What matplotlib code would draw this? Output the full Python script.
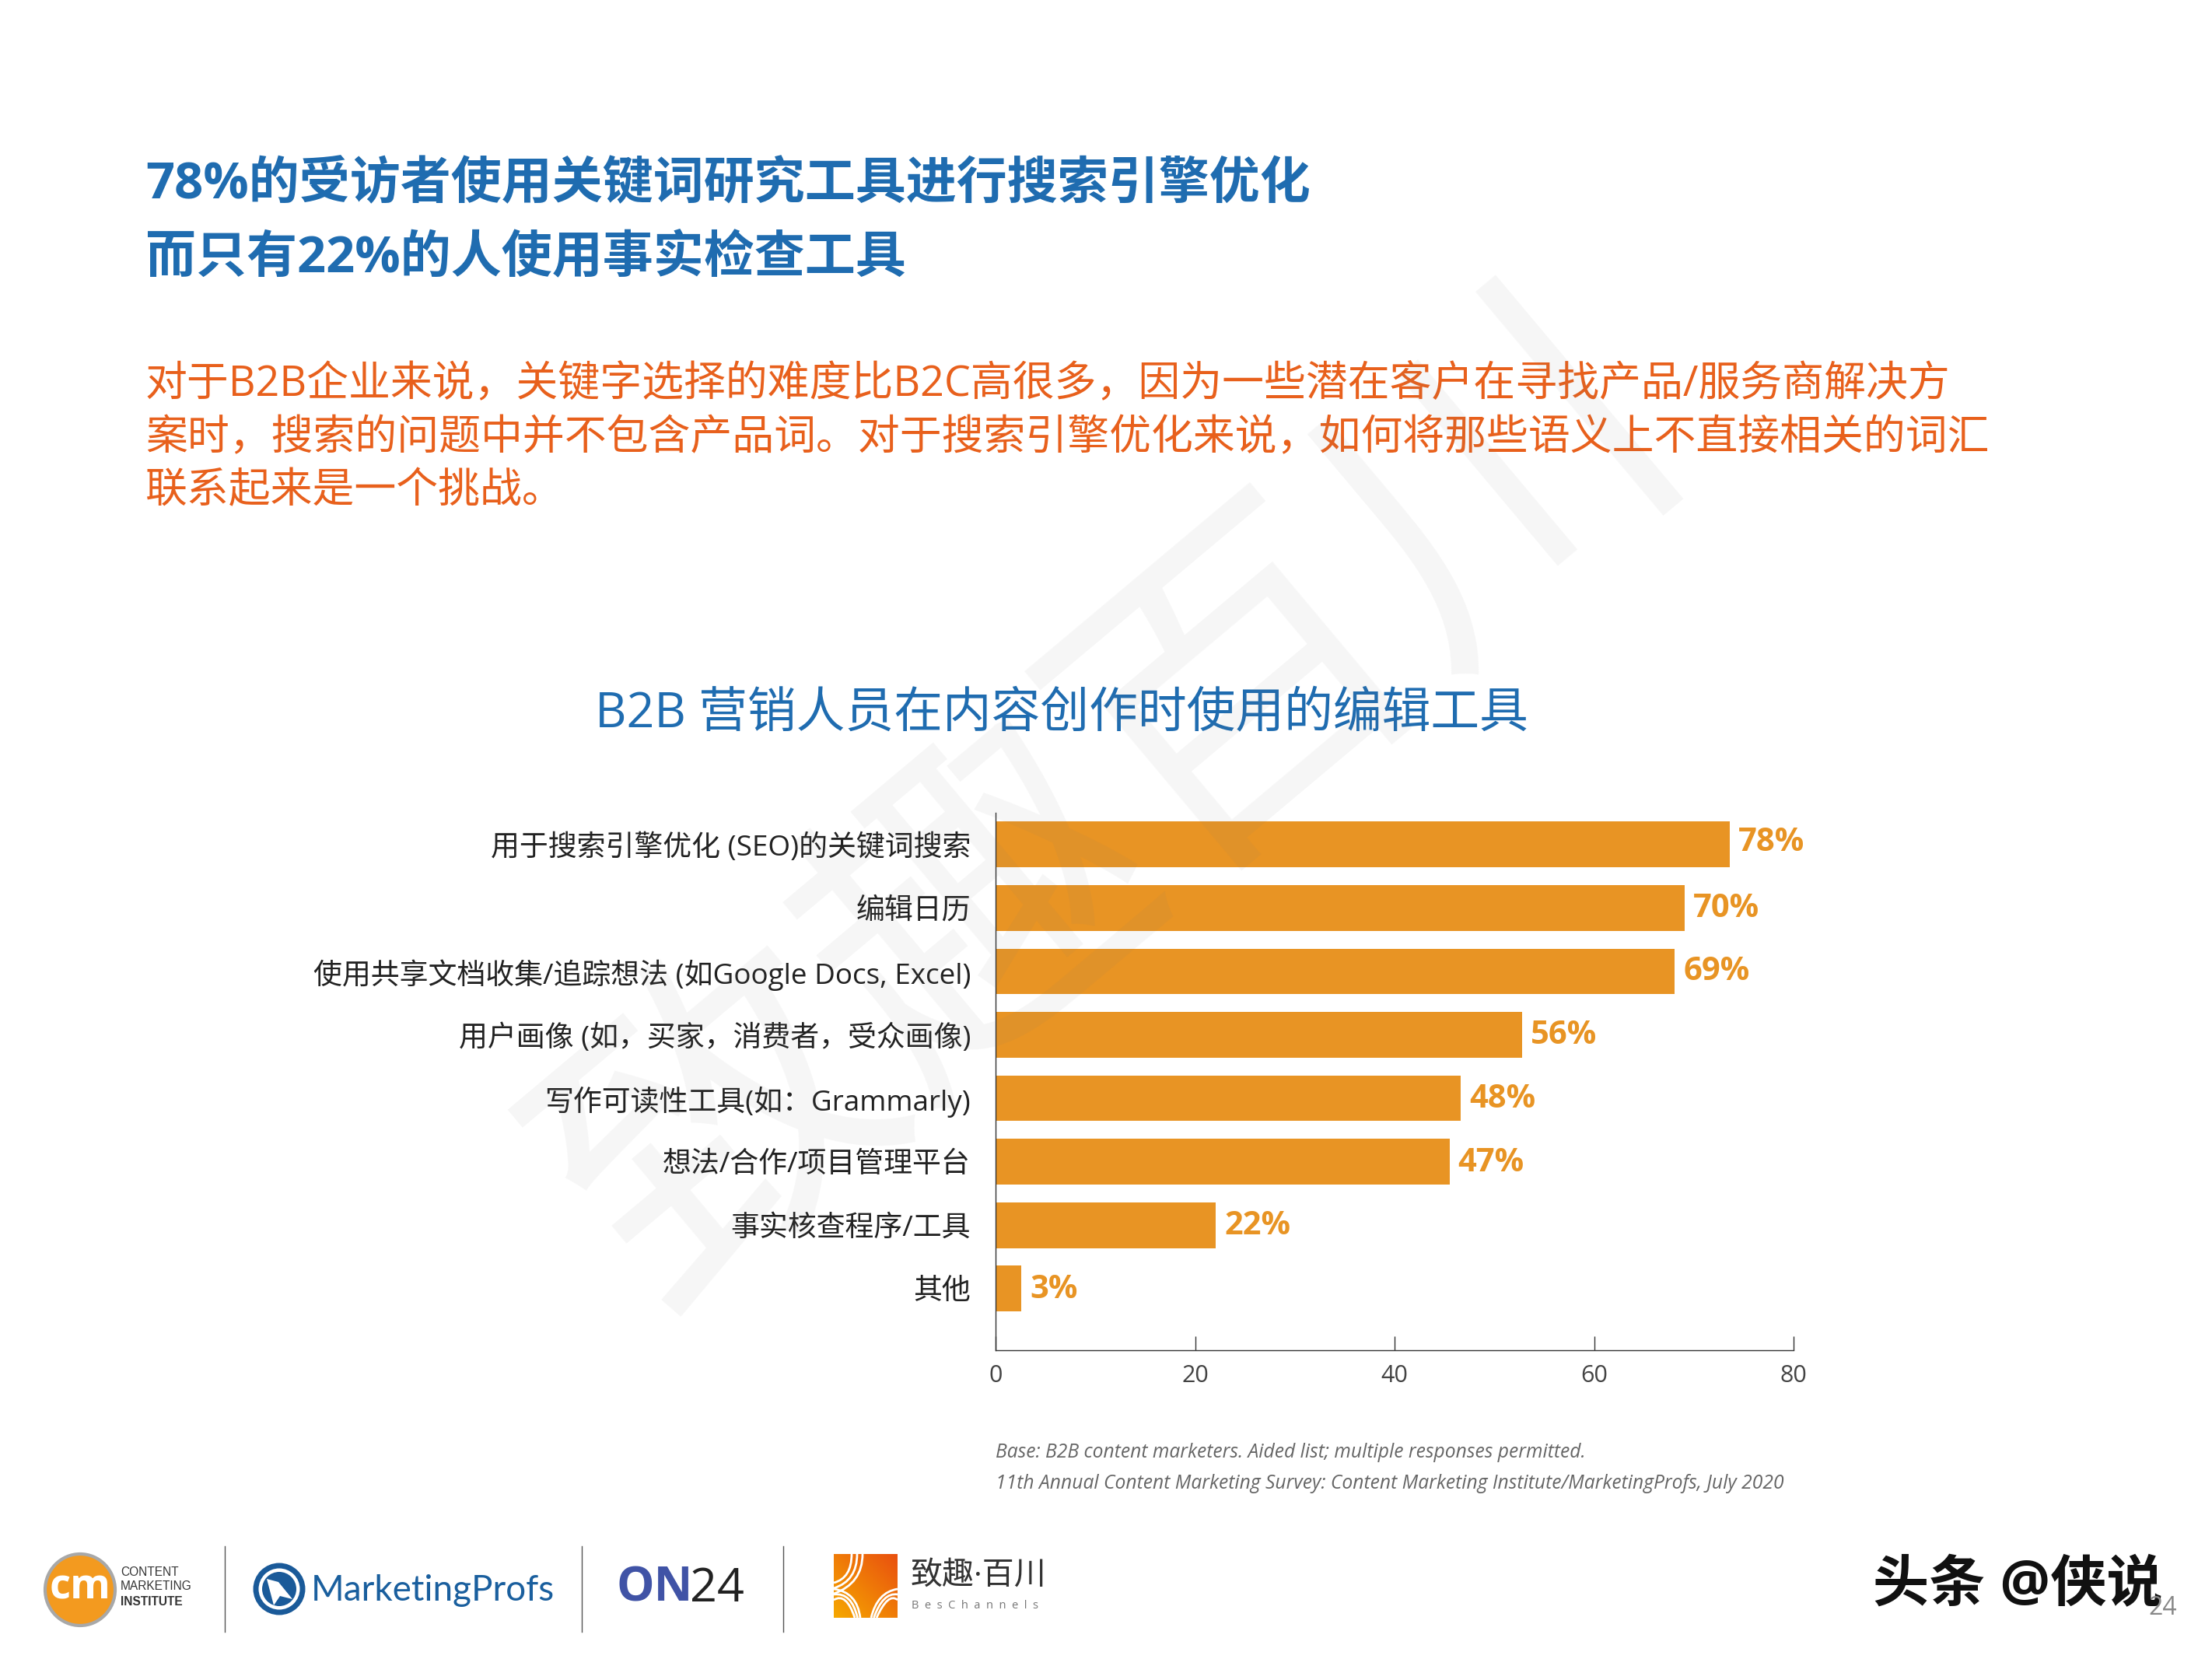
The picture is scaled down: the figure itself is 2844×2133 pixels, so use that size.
import numpy as np
import matplotlib
matplotlib.use('Agg')
import matplotlib.pyplot as plt
from matplotlib.patches import Circle, Ellipse, PathPatch, Polygon
from matplotlib.path import Path

plt.rcParams['font.family'] = ['Open Sans', 'Noto Sans CJK SC', 'DejaVu Sans']

W, H = 2844, 2133
DPI = 100

# chart data
categories = ['用于搜索引擎优化 (SEO)的关键词搜索', '编辑日历', '使用共享文档收集/追踪想法 (如Google Docs, Excel)',
              '用户画像 (如，买家，消费者，受众画像)', '写作可读性工具(如：Grammarly)', '想法/合作/项目管理平台',
              '事实核查程序/工具', '其他']
# bar lengths as drawn against the axis (they run a bit short of the printed labels)
bar_lengths = [73.6, 69.1, 68.1, 52.8, 46.6, 45.5, 22.1, 2.6]
value_labels = ['78%', '70%', '69%', '56%', '48%', '47%', '22%', '3%']
x_ticks = [0, 20, 40, 60, 80]

title_lines = ['78%的受访者使用关键词研究工具进行搜索引擎优化', '而只有22%的人使用事实检查工具']
body_lines = ['对于B2B企业来说，关键字选择的难度比B2C高很多，因为一些潜在客户在寻找产品/服务商解决方',
              '案时，搜索的问题中并不包含产品词。对于搜索引擎优化来说，如何将那些语义上不直接相关的词汇',
              '联系起来是一个挑战。']
chart_title = 'B2B 营销人员在内容创作时使用的编辑工具'
foot_lines = ['Base: B2B content marketers. Aided list; multiple responses permitted.',
              '11th Annual Content Marketing Survey: Content Marketing Institute/MarketingProfs, July 2020']

BLUE = '#1f6cb0'
ORANGE_TXT = '#e8601c'
BAR = '#e89424'

fig = plt.figure(figsize=(W / DPI, H / DPI), dpi=DPI, facecolor='white')

# bar chart, axes placed in page pixels
left, right, top, bottom = 1280, 2306, 1045, 1736
ax = fig.add_axes([left / W, 1 - bottom / H, (right - left) / W, (bottom - top) / H])
y = np.arange(len(categories))
ax.barh(y, bar_lengths, height=0.72, color=BAR)
ax.set_xlim(0, 80)
ax.set_ylim(7.97, -0.5)
ax.set_yticks(y)
ax.set_yticklabels(categories, fontsize=26.6, color='#222222')
ax.tick_params(axis='y', length=0, pad=23)
ax.set_xticks(x_ticks)
ax.tick_params(axis='x', direction='in', length=13, width=1, color='#333333',
               labelsize=22, labelcolor='#444444', pad=13)
for s in ['top', 'right']:
    ax.spines[s].set_visible(False)
for s in ['left', 'bottom']:
    ax.spines[s].set_color('#333333')
    ax.spines[s].set_linewidth(1)
label_dy = [2, -1, -0.5, -1, -1, -1, -1, -1]
for i, (v, lab) in enumerate(zip(bar_lengths, value_labels)):
    ax.annotate(lab, (v, i), xytext=(8, label_dy[i]), textcoords='offset points', va='center', ha='left',
                fontsize=30, fontweight='bold', color=BAR)

# page layer with pixel coordinates, y downward
page = fig.add_axes([0, 0, 1, 1], zorder=5)
page.patch.set_alpha(0)
page.axis('off')

for yy, line in zip([239, 333], title_lines):
    page.text(187, yy, line, fontsize=46.8, fontweight='bold', color=BLUE, va='center', ha='left')
for yy, line in zip([494, 564, 632], body_lines):
    page.text(187, yy, line, fontsize=38.8, color=ORANGE_TXT, va='center', ha='left')
page.text(1365, 918, chart_title, fontsize=45.2, color=BLUE, va='center', ha='center')
for yy, line in zip([1867, 1907], foot_lines):
    page.text(1280, yy, line, fontsize=17.7, style='italic', color='#666666', va='center', ha='left')

# watermark
page.text(1440, 1045, '致趣百川', fontsize=312, color='#777777', alpha=0.065, rotation=40,
          rotation_mode='anchor', va='center', ha='center')

# CMI logo
page.add_patch(Ellipse((103, 2044), 90, 92, fc='#f39a1f', ec='#a8a8a8', lw=3))
page.text(103, 2042, 'cm', fontsize=38, fontweight='bold', color='white', va='center', ha='center')
for yy, t, fw in [(2022, 'CONTENT', 'normal'), (2040, 'MARKETING', 'normal'), (2059, 'INSTITUTE', 'bold')]:
    page.text(155, yy, t, fontsize=11.2, fontweight=fw, color='#333333', va='center', ha='left',
              family=['Liberation Sans'])

# separators
for xx in [289, 748, 1007]:
    page.plot([xx, xx], [1988, 2098], color='#555555', lw=1)

# MarketingProfs logo
page.add_patch(Circle((359, 2043), 30, fc='white', ec='#1a5a99', lw=5))
page.add_patch(Circle((359, 2043), 22, fc='#1a5a99', ec='none'))
page.add_patch(Polygon([(343, 2030), (358, 2034), (376, 2056), (360, 2052), (352, 2064)], fc='white', ec='none'))
page.text(400, 2045, 'MarketingProfs', fontsize=33, color='#1a5f9e', va='center', ha='left',
          family=['Lato'])

# ON24 logo
page.text(793, 2043, 'ON', fontsize=44, fontweight='bold', color='#4053a6', va='center', ha='left')
page.text(887, 2043, '24', fontsize=44, color='#222222', va='center', ha='left')

# BesChannels logo
sx0, sx1, sy0, sy1 = 1072, 1154, 1998, 2080
grad = np.linspace(0, 1, 64)[None, :] + np.linspace(1, 0, 64)[:, None]
page.imshow(grad, extent=(sx0, sx1, sy1, sy0), cmap=matplotlib.colors.LinearSegmentedColormap.from_list(
    'bes', ['#f6a800', '#e9500f']), aspect='auto', zorder=1)
mid = (sy0 + sy1) / 2
for d in [0, 7, 14]:
    curves = [
        [(1095 + d, sy0), (1095 + d, mid - 10 + d / 2), (sx0, mid - 4 + d)],
        [(sx0, mid + 4 + d), (1102 - d, mid + 8), (1106 - d / 2, sy1)],
        [(sx1, mid + 4 + d), (1128 + d, mid + 8), (1120 + d / 2, sy1)],
    ]
    for c in curves:
        page.add_patch(PathPatch(Path(c, [Path.MOVETO, Path.CURVE3, Path.CURVE3]), fc='none', ec='white',
                                 lw=2, zorder=2))
page.text(1170, 2026, '致趣·百川', fontsize=29.5, color='#333333', va='center', ha='left')
page.text(1172, 2064, 'B  e  s  C  h  a  n  n  e  l  s', fontsize=10.5, color='#777777', va='center', ha='left')

# site mark and page number
page.text(2408, 2040, '头条 @侠说', fontsize=52, fontweight='bold', color='#111111', va='center', ha='left')
page.text(2762, 2068, '24', fontsize=23, color='#888888', va='center', ha='left')

page.set_xlim(0, W)
page.set_ylim(H, 0)

fig.savefig('out.png', dpi=DPI, facecolor='white')
